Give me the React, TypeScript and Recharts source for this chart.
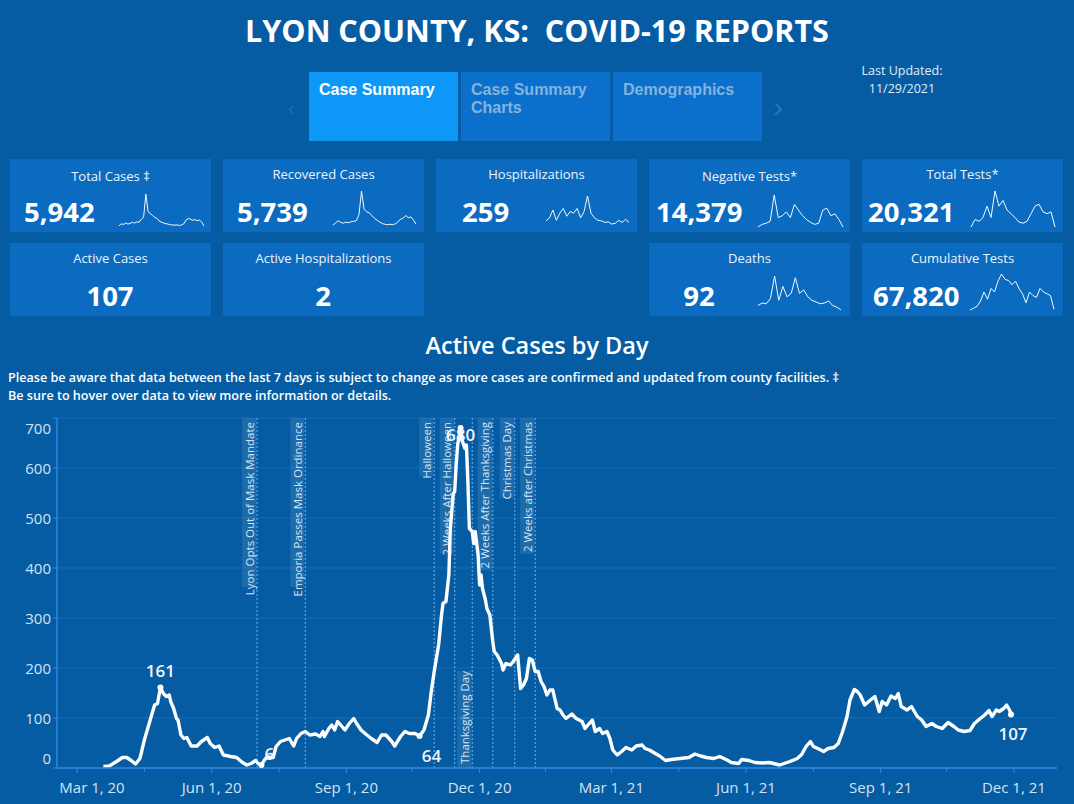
import React from 'react'
import { LineChart, Line, XAxis, YAxis, CartesianGrid, ReferenceLine } from 'recharts'

// ---- Active cases by day ----
const caseDates = [
  '2020-03-19', '2020-03-23', '2020-03-28', '2020-04-01', '2020-04-04', '2020-04-07', '2020-04-10', '2020-04-13',
  '2020-04-16', '2020-04-20', '2020-04-23', '2020-04-25', '2020-04-27', '2020-04-29', '2020-05-01', '2020-05-03',
  '2020-05-04', '2020-05-06', '2020-05-08', '2020-05-09', '2020-05-11', '2020-05-13', '2020-05-15', '2020-05-18',
  '2020-05-22', '2020-05-25', '2020-05-29', '2020-05-31', '2020-06-03', '2020-06-06', '2020-06-09', '2020-06-14',
  '2020-06-18', '2020-06-22', '2020-06-25', '2020-06-28', '2020-07-01', '2020-07-03', '2020-07-05', '2020-07-07',
  '2020-07-09', '2020-07-13', '2020-07-15', '2020-07-18', '2020-07-20', '2020-07-22', '2020-07-24', '2020-07-27',
  '2020-07-29', '2020-08-01', '2020-08-04', '2020-08-07', '2020-08-11', '2020-08-14', '2020-08-16', '2020-08-17',
  '2020-08-20', '2020-08-22', '2020-08-24', '2020-08-26', '2020-08-29', '2020-08-31', '2020-09-03', '2020-09-06',
  '2020-09-08', '2020-09-11', '2020-09-15', '2020-09-18', '2020-09-22', '2020-09-25', '2020-09-28', '2020-10-02',
  '2020-10-04', '2020-10-08', '2020-10-11', '2020-10-14', '2020-10-18', '2020-10-21', '2020-10-24', '2020-10-27',
  '2020-10-29', '2020-10-31', '2020-11-03', '2020-11-05', '2020-11-06', '2020-11-08', '2020-11-10', '2020-11-11',
  '2020-11-13', '2020-11-14', '2020-11-15', '2020-11-16', '2020-11-17', '2020-11-18', '2020-11-19', '2020-11-21',
  '2020-11-22', '2020-11-23', '2020-11-24', '2020-11-26', '2020-11-27', '2020-11-28', '2020-11-30', '2020-12-01',
  '2020-12-02', '2020-12-03', '2020-12-05', '2020-12-06', '2020-12-08', '2020-12-10', '2020-12-11', '2020-12-13',
  '2020-12-16', '2020-12-17', '2020-12-19', '2020-12-22', '2020-12-24', '2020-12-27', '2020-12-29', '2020-12-31',
  '2021-01-02', '2021-01-04', '2021-01-06', '2021-01-08', '2021-01-10', '2021-01-12', '2021-01-14', '2021-01-16',
  '2021-01-18', '2021-01-20', '2021-01-21', '2021-01-23', '2021-01-25', '2021-01-27', '2021-01-29', '2021-02-02',
  '2021-02-05', '2021-02-09', '2021-02-11', '2021-02-13', '2021-02-16', '2021-02-18', '2021-02-21', '2021-02-23',
  '2021-02-26', '2021-02-28', '2021-03-02', '2021-03-05', '2021-03-08', '2021-03-11', '2021-03-15', '2021-03-18',
  '2021-03-22', '2021-03-24', '2021-03-27', '2021-03-31', '2021-04-03', '2021-04-07', '2021-04-11', '2021-04-17',
  '2021-04-23', '2021-04-27', '2021-05-01', '2021-05-05', '2021-05-10', '2021-05-14', '2021-05-19', '2021-05-22',
  '2021-05-27', '2021-05-29', '2021-06-03', '2021-06-07', '2021-06-12', '2021-06-17', '2021-06-24', '2021-07-01',
  '2021-07-06', '2021-07-09', '2021-07-12', '2021-07-15', '2021-07-17', '2021-07-20', '2021-07-24', '2021-07-27',
  '2021-07-31', '2021-08-03', '2021-08-06', '2021-08-09', '2021-08-11', '2021-08-14', '2021-08-16', '2021-08-18',
  '2021-08-21', '2021-08-25', '2021-08-28', '2021-08-31', '2021-09-02', '2021-09-05', '2021-09-08', '2021-09-11',
  '2021-09-13', '2021-09-15', '2021-09-19', '2021-09-22', '2021-09-26', '2021-09-29', '2021-10-02', '2021-10-06',
  '2021-10-09', '2021-10-13', '2021-10-17', '2021-10-21', '2021-10-24', '2021-10-28', '2021-11-01', '2021-11-04',
  '2021-11-08', '2021-11-11', '2021-11-14', '2021-11-16', '2021-11-19', '2021-11-21', '2021-11-24', '2021-11-26',
  '2021-11-28', '2021-11-29',
]
const activeCases = [
  3, 4, 13, 21, 21, 15, 8, 19,
  56, 96, 126, 129, 161, 149, 143, 146,
  133, 119, 99, 96, 66, 59, 61, 44,
  44, 53, 61, 49, 41, 44, 26, 23,
  21, 11, 6, 9, 15, 8, 6, 16,
  22, 21, 43, 53, 55, 57, 59, 44,
  59, 69, 73, 66, 68, 63, 73, 63,
  79, 86, 76, 93, 83, 76, 89, 99,
  89, 76, 66, 59, 51, 66, 66, 53,
  44, 63, 73, 69, 69, 64, 76, 106,
  153, 193, 246, 306, 329, 333, 386, 479,
  549, 553, 606, 646, 663, 680, 656, 639,
  646, 573, 479, 473, 449, 473, 426, 366,
  386, 359, 336, 319, 306, 253, 233, 226,
  209, 196, 209, 206, 213, 226, 159, 166,
  179, 219, 216, 193, 193, 173, 163, 146,
  156, 156, 143, 119, 116, 106, 99, 108,
  99, 93, 79, 86, 96, 73, 79, 69,
  73, 59, 36, 26, 33, 41, 36, 44,
  46, 39, 36, 29, 24, 15, 17, 19,
  21, 28, 24, 21, 19, 23, 16, 11,
  9, 17, 15, 11, 10, 11, 6, 13,
  19, 27, 43, 53, 43, 39, 33, 39,
  41, 49, 73, 103, 136, 157, 153, 146,
  126, 136, 143, 113, 133, 126, 144, 139,
  149, 123, 116, 123, 103, 96, 83, 89,
  83, 79, 91, 83, 76, 73, 75, 89,
  99, 106, 115, 103, 116, 113, 119, 126,
  116, 107,
]

// labelled marks (max / min / last)
const markedDates = ['2020-04-27', '2020-07-05', '2020-10-21', '2020-11-18', '2021-11-29']

// event reference lines
const eventNames = [
  'Lyon Opts Out of Mask Mandate', 'Emporia Passes Mask Ordinance', 'Halloween', '2 Weeks After Halloween',
  'Thanksgiving Day', '2 Weeks After Thanksgiving', 'Christmas Day', '2 Weeks after Christmas',
]
const eventDates = ['2020-07-02', '2020-08-04', '2020-10-31', '2020-11-14', '2020-11-26', '2020-12-10', '2020-12-25', '2021-01-08']

const majorTicks = ['2020-03-01', '2020-06-01', '2020-09-01', '2020-12-01', '2021-03-01', '2021-06-01', '2021-09-01', '2021-12-01']
const minorTicks = ['2020-04-16', '2020-07-17', '2020-10-16', '2021-01-15', '2021-04-16', '2021-07-17', '2021-10-16']
const yTicks = [0, 100, 200, 300, 400, 500, 600, 700]

// ---- KPI tiles ----
const kpiTitles = ['Total Cases \u2021', 'Recovered Cases', 'Hospitalizations', 'Negative Tests*', 'Total Tests*',
  'Active Cases', 'Active Hospitalizations', 'Deaths', 'Cumulative Tests']
const kpiValues = ['5,942', '5,739', '259', '14,379', '20,321', '107', '2', '92', '67,820']

const totalCasesTrend = [2, 8, 6, 10, 7, 9, 12, 10, 13, 12, 20, 25, 87, 40, 35, 30, 25, 22, 15, 12, 10, 8, 7, 5, 5, 4, 5, 3, 5, 8, 18, 22, 20, 17, 19, 16, 18, 12, 2]
const recoveredTrend = [2, 8, 14, 9, 7, 10, 8, 11, 12, 14, 30, 95, 45, 38, 35, 28, 20, 15, 10, 6, 4, 3, 4, 3, 5, 10, 18, 20, 28, 22, 24, 16, 4]
const hospitalTrend = [12, 22, 47, 14, 37, 52, 27, 42, 37, 52, 22, 42, 92, 37, 22, 14, 12, 7, 9, 2, 4, 14, 7, 17, 7]
const negativeTrend = [2, 9, 12, 17, 87, 27, 32, 42, 27, 62, 47, 32, 22, 14, 9, 12, 47, 52, 32, 37, 22, 2]
const totalTestsTrend = [2, 22, 17, 27, 57, 27, 97, 57, 72, 47, 37, 27, 15, 12, 17, 37, 57, 62, 42, 37, 42, 2]
const deathsTrend = [15, 22, 20, 35, 100, 30, 70, 40, 50, 95, 50, 60, 40, 30, 25, 20, 22, 28, 15, 10, 2]
const cumulativeTestsTrend = [2, 7, 12, 27, 52, 32, 62, 52, 82, 102, 87, 84, 72, 82, 62, 47, 22, 52, 42, 37, 62, 52, 47, 42, 4]

const kpiTrends: (number[] | null)[] = [totalCasesTrend, recoveredTrend, hospitalTrend, negativeTrend, totalTestsTrend,
  null, null, deathsTrend, cumulativeTestsTrend]

const PAGE_BG = '#065ca3'
const CARD_BG = '#0b6bc1'
const GRID = '#156bb4'
const AXIS = '#2a8ae2'
const EVENT_LINE = '#5aa5e8'
const TEXT = '#e6eef7'
const FONT = '"Open Sans", "Noto Sans", sans-serif'

const MONTHS = ['Jan', 'Feb', 'Mar', 'Apr', 'May', 'Jun', 'Jul', 'Aug', 'Sep', 'Oct', 'Nov', 'Dec']
const toTime = (d: string) => Date.parse(d + 'T00:00:00Z')
const majorSet = new Set(majorTicks.map(toTime))

const chartData = caseDates.map((d, i) => ({ t: toTime(d), cases: activeCases[i] }))
const markedTimes = markedDates.map(toTime)

const X_MIN = Date.UTC(2020, 1, 16, 8)
const X_MAX = Date.UTC(2021, 11, 30, 10)
const PLOT_LEFT = 57

// offsets for the mark labels, in the same order as markedDates
const markOffsets: [number, number][] = [[0, -17], [8, -12], [12, 19], [0, 6], [2, 19]]

function CaseDot(props: any) {
  const { cx, cy, payload, index } = props
  const k = markedTimes.indexOf(payload.t)
  if (k < 0) return <g key={`d-${index}`} />
  const [dx, dy] = markOffsets[k]
  return (
    <g key={`d-${index}`}>
      <circle cx={cx} cy={cy} r={3} fill="#fff" />
      <text x={cx + dx} y={cy + dy} textAnchor="middle" dominantBaseline="central"
        fill="#f2f6fb" fontSize={17} fontWeight={600} fontFamily={FONT}>
        {payload.cases}
      </text>
    </g>
  )
}

function XTick(props: any) {
  const { x, y, payload } = props
  const major = majorSet.has(payload.value)
  if (!major) return <line x1={x} x2={x} y1={y} y2={y + 4} stroke={AXIS} strokeWidth={1} />
  const d = new Date(payload.value)
  const label = `${MONTHS[d.getUTCMonth()]} ${d.getUTCDate()}, ${String(d.getUTCFullYear()).slice(2)}`
  const half = 33
  const shift = Math.max(0, PLOT_LEFT + 2 - (x - half))
  return (
    <g>
      <line x1={x} x2={x} y1={y} y2={y + 5} stroke={AXIS} strokeWidth={1} />
      <text x={x + shift} y={y + 19} textAnchor="middle" dominantBaseline="central"
        fill="#d3e3f3" fontSize={15} fontFamily={FONT}>{label}</text>
    </g>
  )
}

function YTick(props: any) {
  const { x, y, payload } = props
  const v = payload.value
  const dy = v === 700 ? 10 : v === 0 ? -10 : 0
  return (
    <g>
      <line x1={x - 4} x2={x} y1={y} y2={y} stroke={AXIS} strokeWidth={1} />
      <text x={x - 6} y={y + dy} textAnchor="end" dominantBaseline="central"
        fill="#d3e3f3" fontSize={15} fontFamily={FONT}>{v}</text>
    </g>
  )
}

function EventLabel({ viewBox, name, bottom }: any) {
  if (!viewBox) return null
  const x = viewBox.x
  const len = name.length * 5.55 + 8
  const tx = x - 8
  const style = { fill: '#d6e5f4', fontSize: 11.5, letterSpacing: 0, fontFamily: FONT }
  if (bottom) {
    const by = viewBox.y + viewBox.height
    return (
      <g>
        <rect x={x - 15} y={by - len} width={14} height={len} fill="rgba(140,175,210,0.18)" />
        <text x={tx} y={by - 4} transform={`rotate(-90 ${tx} ${by - 4})`} textAnchor="start" dominantBaseline="central"
          {...style}>{name}</text>
      </g>
    )
  }
  const ty = viewBox.y
  return (
    <g>
      <rect x={x - 15} y={ty} width={14} height={len} fill="rgba(140,175,210,0.18)" />
      <text x={tx} y={ty + 4} transform={`rotate(-90 ${tx} ${ty + 4})`} textAnchor="end" dominantBaseline="central"
        {...style}>{name}</text>
    </g>
  )
}

function Sparkline({ values, width, height }: { values: number[]; width: number; height: number }) {
  const data = values.map((v, i) => ({ i, v }))
  return (
    <LineChart width={width} height={height} data={data} margin={{ top: 1, right: 1, bottom: 1, left: 1 }}>
      <XAxis dataKey="i" type="number" domain={['dataMin', 'dataMax']} hide />
      <YAxis type="number" domain={['dataMin', 'dataMax']} hide />
      <Line dataKey="v" stroke="#f4f8fc" strokeWidth={1} dot={false} isAnimationActive={false} />
    </LineChart>
  )
}

// tile layout
const tileBoxes = [
  [10, 159], [223, 159], [436, 159], [649, 159], [862, 159],
  [10, 243], [223, 243], [649, 243], [862, 243],
]
const titleTops = [167, 165, 165, 167, 165, 249, 249, 249, 249]
const numberLeft: (number | null)[] = [24, 237, 462, 656, 868, null, null, null, 873]
const numberCenter = [0, 0, 0, 0, 0, 110, 323, 699, 0]
const sparkBoxes = [
  [118, 193, 87, 34], [332, 190, 85, 36], [545, 195, 85, 30], [757, 194, 87, 34], [970, 190, 86, 38],
  null, null, [757, 275, 85, 36], [969, 273, 86, 38],
]

export default function App() {
  return (
    <div style={{ position: 'absolute', left: 0, top: 0, width: 1074, height: 804, background: PAGE_BG, overflow: 'hidden', fontFamily: FONT, color: TEXT }}>
      {/* header */}
      <div style={{ position: 'absolute', left: 0, top: 10, width: 1074, textAlign: 'center', fontSize: 30.5, fontWeight: 700, color: '#fff', whiteSpace: 'pre', lineHeight: '40px' }}>
        {'LYON COUNTY, KS:  COVID-19 REPORTS'}
      </div>

      {/* tabs */}
      <div style={{ position: 'absolute', left: 288, top: 96, color: '#1f6aae', fontSize: 22, fontFamily: '"Liberation Sans", Arial, sans-serif' }}>{'\u2039'}</div>
      {['Case Summary', 'Case Summary\nCharts', 'Demographics'].map((t, i) => (
        <div key={t} style={{
          position: 'absolute', left: 309 + i * 152, top: 72, width: 149, height: 69,
          background: i === 0 ? '#0d97f6' : '#0a70cb', boxSizing: 'border-box', padding: '9px 10px',
          fontFamily: '"Liberation Sans", Arial, sans-serif', fontWeight: 700, fontSize: 16, lineHeight: '18px',
          color: i === 0 ? '#fff' : '#84b3df', whiteSpace: 'pre',
        }}>{t}</div>
      ))}
      <div style={{ position: 'absolute', left: 773, top: 90, color: '#2f74b4', fontSize: 30, fontFamily: '"Liberation Sans", Arial, sans-serif' }}>{'\u203A'}</div>
      <div style={{ position: 'absolute', left: 832, top: 62, width: 140, textAlign: 'center', fontSize: 12.5, lineHeight: '18px', color: '#e2ecf6' }}>
        Last Updated:<br />11/29/2021
      </div>

      {/* KPI tiles */}
      {kpiTitles.map((title, i) => {
        const [l, t] = tileBoxes[i]
        const sb = sparkBoxes[i]
        const trend = kpiTrends[i]
        const numStyle = { position: 'absolute' as const, top: t + 34, fontSize: 27.5, fontWeight: 700, color: '#fff', lineHeight: '38px' }
        return (
          <React.Fragment key={title}>
            <div style={{ position: 'absolute', left: l, top: t, width: 201, height: 73, background: CARD_BG }} />
            <div style={{ position: 'absolute', left: l, top: titleTops[i], width: 201, textAlign: 'center', fontSize: 13, color: '#eef4fa' }}>{title}</div>
            {numberLeft[i] !== null ? (
              <div style={{ ...numStyle, left: numberLeft[i] as number }}>{kpiValues[i]}</div>
            ) : (
              <div style={{ ...numStyle, left: numberCenter[i] - 60, width: 120, textAlign: 'center' }}>{kpiValues[i]}</div>
            )}
            {sb && trend && (
              <div style={{ position: 'absolute', left: sb[0], top: sb[1] }}>
                <Sparkline values={trend} width={sb[2]} height={sb[3]} />
              </div>
            )}
          </React.Fragment>
        )
      })}

      {/* chart title + notes */}
      <div style={{ position: 'absolute', left: 0, top: 329, width: 1074, textAlign: 'center', fontSize: 23.5, fontWeight: 600, color: '#fff', lineHeight: '32px' }}>
        Active Cases by Day
      </div>
      <div style={{ position: 'absolute', left: 8, top: 369, fontSize: 12.6, fontWeight: 600, color: '#fff', lineHeight: '18px', whiteSpace: 'nowrap' }}>
        Please be aware that data between the last 7 days is subject to change as more cases are confirmed and updated from county facilities. {'\u2021'}<br />
        Be sure to hover over data to view more information or details.
      </div>

      {/* main chart */}
      <div style={{ position: 'absolute', left: 0, top: 400 }}>
        <LineChart width={1074} height={404} data={chartData} margin={{ top: 18, right: 17, bottom: 0, left: 0 }}>
          <CartesianGrid vertical={false} stroke={GRID} strokeWidth={1} />
          <XAxis dataKey="t" type="number" domain={[X_MIN, X_MAX]} allowDataOverflow
            ticks={[...majorTicks, ...minorTicks].map(toTime).sort((a, b) => a - b)}
            interval={0} tick={<XTick />} tickLine={false} tickSize={0} tickMargin={0}
            axisLine={{ stroke: AXIS, strokeWidth: 1.5 }} height={36} />
          <YAxis type="number" domain={[0, 700]} ticks={yTicks} interval={0} tick={<YTick />}
            tickLine={false} tickSize={0} tickMargin={0} axisLine={{ stroke: AXIS, strokeWidth: 1.5 }} width={57} />
          {eventNames.map((name, i) => (
            <ReferenceLine key={name} x={toTime(eventDates[i])} stroke={EVENT_LINE} strokeWidth={1.2} strokeDasharray="2 2"
              label={(p: any) => <EventLabel {...p} name={name} bottom={name === 'Thanksgiving Day'} />} />
          ))}
          <Line dataKey="cases" type="linear" stroke="#fbfdff" strokeWidth={3.4} strokeLinejoin="round" dot={<CaseDot />}
            activeDot={false} isAnimationActive={false} />
        </LineChart>
      </div>
    </div>
  )
}
